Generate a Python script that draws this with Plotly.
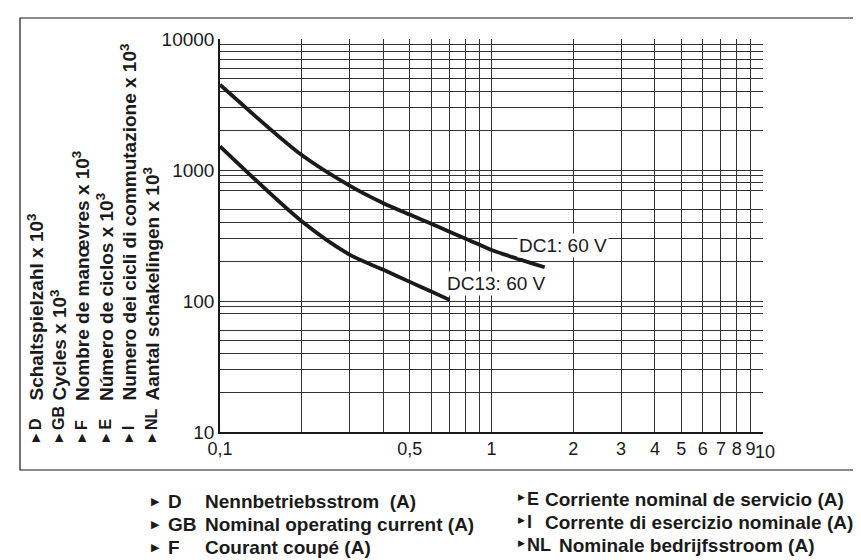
import math
import plotly.graph_objects as go

# ---- data ----
current_dc1 = [0.1, 0.2, 0.3, 0.4, 0.5, 0.6, 0.7, 0.8, 0.9, 1.0, 1.57]
cycles_dc1 = [4480, 1300, 760, 558, 457, 388, 338, 300, 270, 245, 181]

current_dc13 = [0.1, 0.2, 0.3, 0.4, 0.5, 0.6, 0.7]
cycles_dc13 = [1517, 406, 226, 173, 140, 118, 102]

series_labels = ["DC1: 60 V", "DC13: 60 V"]
label_pos_x = [1.24, 0.672]
label_pos_y = [263, 135]

x_grid = [0.1, 0.2, 0.3, 0.4, 0.5, 0.6, 0.7, 0.8, 0.9, 1, 2, 3, 4, 5, 6, 7, 8, 9, 10]
x_tick_text = ["0,1", "", "", "", "0,5", "", "", "", "", "1", "2", "3", "4", "5", "6", "7",
               "8", "9", ""]
x_last_label = "10"

y_grid = [10, 20, 30, 40, 50, 60, 80, 90, 100, 200, 300, 400, 500, 700, 800, 900,
          1000, 2000, 3000, 4000, 5000, 6000, 7000, 8000, 9000, 10000]
y_tick_labels = {10: "10", 100: "100", 1000: "1000", 10000: "10000"}

y_title_codes = ["D", "GB", "F", "E", "I", "NL"]
y_title_texts = ["Schaltspielzahl x 10<sup>3</sup>", "Cycles x 10<sup>3</sup>",
                 "Nombre de manœvres x 10<sup>3</sup>", "Número de ciclos x 10<sup>3</sup>",
                 "Numero dei cicli di commutazione x 10<sup>3</sup>",
                 "Aantal schakelingen x 10<sup>3</sup>"]

x_title_codes_left = ["D", "GB", "F"]
x_title_texts_left = ["Nennbetriebsstrom  (A)", "Nominal operating current (A)", "Courant coupé (A)"]
x_title_codes_right = ["E", "I", "NL"]
x_title_texts_right = ["Corriente nominal de servicio (A)", "Corrente di esercizio nominale (A)",
                       "Nominale bedrijfsstroom (A)"]

# ---- layout geometry (pixels) ----
W, H = 861, 560
L, T, R, B = 212, 31, 755, 424
FONT = "Liberation Sans, Arial, Helvetica, sans-serif"
INK = "#1a1a1a"


def px(x):
    return (x - L) / (R - L)


def py(y):
    return (B - y) / (B - T)


fig = go.Figure()
for xs, ys in ((current_dc1, cycles_dc1), (current_dc13, cycles_dc13)):
    fig.add_trace(go.Scatter(x=xs, y=ys, mode="lines",
                             line=dict(color=INK, width=3.8, shape="spline", smoothing=0.8),
                             hoverinfo="skip", showlegend=False))

ann = []
for t, xv, yv in zip(series_labels, label_pos_x, label_pos_y):
    ann.append(dict(x=math.log10(xv), y=math.log10(yv), xref="x", yref="y", text=t,
                    showarrow=False, xanchor="left", yanchor="middle", bgcolor="white",
                    borderpad=1, font=dict(family=FONT, size=19, color=INK)))

# last x tick label, nudged right as in the reference so it clears the "9"
ann.append(dict(x=px(746), y=0, xref="paper", yref="paper", text=x_last_label,
                showarrow=False, xanchor="left", yanchor="top", yshift=-9, borderpad=0,
                font=dict(family=FONT, size=18, color=INK)))

cols = [27, 50, 73, 97, 120, 143]
for c, code, txt in zip(cols, y_title_codes, y_title_texts):
    ann.append(dict(x=px(c), y=py(430), xref="paper", yref="paper", text="▶", showarrow=False,
                    textangle=-90, xanchor="center", yanchor="middle",
                    font=dict(family="DejaVu Sans", size=11, color=INK)))
    ann.append(dict(x=px(c), y=py(424), xref="paper", yref="paper", text="<b>%s</b>" % code,
                    showarrow=False, textangle=-90, xanchor="center", yanchor="bottom",
                    font=dict(family=FONT, size=16, color=INK)))
    ann.append(dict(x=px(c), y=py(395), xref="paper", yref="paper", text="<b>%s</b>" % txt,
                    showarrow=False, textangle=-90, xanchor="center", yanchor="bottom",
                    font=dict(family=FONT, size=19, color=INK)))

rows_left = [493, 516, 539]
for r, code, txt in zip(rows_left, x_title_codes_left, x_title_texts_left):
    ann.append(dict(x=px(147.5), y=py(r), xref="paper", yref="paper", text="▶", showarrow=False,
                    xanchor="center", yanchor="middle",
                    font=dict(family="DejaVu Sans", size=11, color=INK)))
    ann.append(dict(x=px(158), y=py(r), xref="paper", yref="paper", text="<b>%s</b>" % code,
                    showarrow=False, xanchor="left", yanchor="middle",
                    font=dict(family=FONT, size=19, color=INK)))
    ann.append(dict(x=px(195), y=py(r), xref="paper", yref="paper", text="<b>%s</b>" % txt,
                    showarrow=False, xanchor="left", yanchor="middle",
                    font=dict(family=FONT, size=19, color=INK)))

rows_right = [491, 514, 537]
text_x_right = [535, 535, 549]
for r, code, txt, tx in zip(rows_right, x_title_codes_right, x_title_texts_right, text_x_right):
    ann.append(dict(x=px(513), y=py(r - 2), xref="paper", yref="paper", text="▶", showarrow=False,
                    xanchor="center", yanchor="middle",
                    font=dict(family="DejaVu Sans", size=9, color=INK)))
    ann.append(dict(x=px(516.5), y=py(r), xref="paper", yref="paper", text="<b>%s</b>" % code,
                    showarrow=False, xanchor="left", yanchor="middle",
                    font=dict(family=FONT, size=18, color=INK)))
    ann.append(dict(x=px(tx), y=py(r), xref="paper", yref="paper", text="<b>%s</b>" % txt,
                    showarrow=False, xanchor="left", yanchor="middle",
                    font=dict(family=FONT, size=19, color=INK)))

shapes = [dict(type="rect", xref="paper", yref="paper", x0=px(12), x1=px(848),
               y0=py(462), y1=py(10), line=dict(color=INK, width=1.2),
               fillcolor="rgba(0,0,0,0)", layer="below")]

fig.update_layout(
    width=W, height=H,
    margin=dict(l=L, r=W - R, t=T, b=H - B, pad=0),
    paper_bgcolor="white", plot_bgcolor="white",
    font=dict(family=FONT, color=INK),
    annotations=ann, shapes=shapes,
    xaxis=dict(type="log", range=[-1, 1], tickmode="array", tickvals=x_grid,
               ticktext=x_tick_text, tickangle=0, showgrid=True, gridcolor="#333333",
               gridwidth=1, ticks="", showline=True, linecolor=INK, linewidth=1.5,
               zeroline=False, tickfont=dict(size=18, color=INK, family=FONT),
               fixedrange=True),
    yaxis=dict(type="log", range=[1, 4], tickmode="array", tickvals=y_grid,
               ticktext=[y_tick_labels.get(v, "") for v in y_grid],
               showgrid=True, gridcolor="#333333", gridwidth=1,
               ticks="", showline=True, linecolor=INK, linewidth=1.5, zeroline=False,
               tickfont=dict(size=19, color=INK, family=FONT), fixedrange=True),
)

fig.write_html("out.html")
